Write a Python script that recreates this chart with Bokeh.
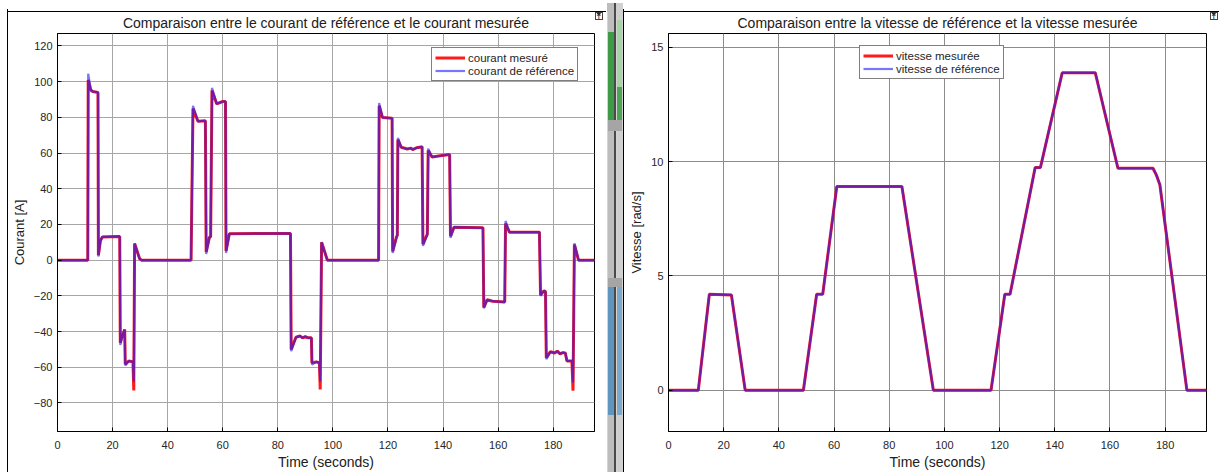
from bokeh.plotting import figure
from bokeh.models import Range1d, FixedTicker, Legend, LegendItem, Div
from bokeh.layouts import row, column
from bokeh.embed import file_html
from bokeh.resources import INLINE

# ---------------- data ----------------
x_ticks = [0, 20, 40, 60, 80, 100, 120, 140, 160, 180]
cur_ticks = [-80, -60, -40, -20, 0, 20, 40, 60, 80, 100, 120]
vit_ticks = [0, 5, 10, 15]

time_cur = [0, 11.0, 11.15, 12.1, 12.8, 14.7, 14.85, 15.6, 16.3, 22.6,
            22.8, 23.6, 24.4, 24.6, 25.9, 27.4, 27.7, 28.0, 29.8, 30.5,
            48.5, 49.2, 51.0, 53.7, 53.99, 55.2, 55.6, 56.1, 57.8, 60.0,
            61.0, 61.2, 62.4, 84.6, 84.85, 86.6, 88.0, 89.0, 90.0, 91.0,
            92.2, 92.4, 94.0, 95.1, 95.4, 95.9, 98.0, 116.6, 116.8, 118.0,
            121.5, 121.7, 123.2, 123.4, 123.6, 124.8, 127.0, 128.3, 129.0, 130.5,
            132.4, 132.7, 134.3, 134.6, 136.0, 139.0, 142.4, 142.7, 144.0, 154.5,
            154.8, 156.0, 158.0, 162.4, 162.7, 164.1, 175.0, 175.4, 176.6, 177.2,
            177.5, 179.0, 180.5, 181.5, 182.5, 183.5, 184.4, 185.0, 186.8, 187.2,
            187.7, 189.2, 195.0]
cur_mes = [0, 0, 101, 95.3, 94.5, 94, 2.8, 11, 13.0, 13.3,
           -46.3, -42, -38.9, -58.3, -56.5, -57, -73, 9.3, 0.9, 0,
           0, 85, 77.8, 78.1, 4.6, 13, 13, 95, 87.6, 88.9,
           88.9, 5.1, 14.8, 15, -50, -43.2, -42.5, -43.5, -42.8, -43.5,
           -43.5, -57.4, -57, -57.5, -72.5, 10, 0, 0, 86.5, 80,
           79.5, 5, 13.5, 13.5, 67.5, 63.3, 62.3, 62.8, 62, 63,
           63.5, 9, 14.6, 61.5, 57.8, 58.5, 59.2, 13.5, 18.5, 18.1,
           -26.5, -22.2, -23, -23.5, 20.5, 15.7, 15.7, -19.4, -17.2, -17.5,
           -54.6, -51.3, -52, -51, -52.5, -51.8, -52, -56.5, -56.5, -73.1,
           8.7, 0, 0]
cur_ref = [0, 0, 104.5, 95.3, 94.5, 94, 2.0, 11, 13.0, 13.3,
           -47.5, -42, -38.9, -59, -56.5, -57, -68, 9.3, 0.9, 0,
           0, 86.5, 77.8, 78.1, 3.5, 13, 13, 96.5, 87.6, 88.9,
           88.9, 4.0, 14.8, 15, -51, -43.2, -42.5, -43.5, -42.8, -43.5,
           -43.5, -58.5, -57, -57.5, -68, 10, 0, 0, 88, 80,
           79.5, 4, 13.5, 13.5, 68.5, 63.3, 62.3, 62.8, 62, 63,
           63.5, 8, 14.6, 62.5, 57.8, 58.5, 59.2, 12.5, 18.5, 18.1,
           -27, -22.2, -23, -23.5, 22, 15.7, 15.7, -20, -17.2, -17.5,
           -55.5, -51.3, -52, -51, -52.5, -51.8, -52, -56.5, -56.5, -68.5,
           9.5, 0, 0]

time_vit = [0, 10.8, 14.8, 22.8, 27.8, 48.9, 53.7, 55.9, 61.0, 84.6,
            96.0, 116.9, 121.9, 123.8, 132.9, 134.8, 142.7, 154.7, 162.9, 175.6,
            176.8, 178.1, 187.9, 195.0]
vit_mes = [0, 0, 4.2, 4.17, 0, 0, 4.2, 4.2, 8.91, 8.91,
           0, 0, 4.2, 4.2, 9.74, 9.74, 13.88, 13.88, 9.71, 9.71,
           9.42, 8.99, 0, 0]
vit_ref = list(vit_mes)

# window decorations: (left, top, width, height, colour) in page pixels
top_boxes = [(7, 8, 599, 1, "#000"), (607, 0, 7, 9, "#bdbdbd"), (614, 0, 2, 9, "#4a4a4a"),
             (616, 0, 7, 9, "#d0d0d0"), (623, 8, 596, 1, "#000")]
left_boxes = [(7, 0, 1, 463, "#000")]
# separator boxes, x relative to x=606, y relative to y=9
sep_boxes = [(1, 0, 16, 463, "#d4d4d4"), (2, 0, 6, 463, "#bdbdbd"), (8, 0, 2, 463, "#4a4a4a"),
             (11, 0, 5, 463, "#cfcfcf"), (2, 23, 6, 88, "#3f9a48"), (11, 11, 5, 67, "#a3d6a3"),
             (11, 78, 5, 33, "#4ca651"), (2, 111, 14, 11, "#a5a5a5"), (2, 269, 14, 9, "#a5a5a5"),
             (2, 278, 6, 128, "#5f95bf"), (11, 278, 5, 128, "#7aa9cd"), (17, 0, 1, 463, "#000")]
icons = [(595, 9), (1210, 9)]

FONT = "Liberation Sans"
H = 463


def boxes_html(boxes, w, h, extra=""):
    parts = [f'<div style="position:relative;width:{w}px;height:{h}px;overflow:visible;">']
    for (l, t, bw, bh, c) in boxes:
        parts.append(f'<div style="position:absolute;left:{l}px;top:{t}px;width:{bw}px;'
                     f'height:{bh}px;background:{c};"></div>')
    parts.append(extra)
    parts.append('</div>')
    return "".join(parts)


icon_html = "".join(
    f'<div style="position:absolute;left:{x}px;top:{y}px;width:8px;height:8px;'
    f'border:1px solid #444;background:#fff;color:#222;font:bold 8px/8px \'DejaVu Sans\';'
    f'text-align:center;z-index:50;">&#x2912;</div>' for (x, y) in icons)

top_div = Div(text=boxes_html(top_boxes, 1219, 9, icon_html), width=1219, height=9,
              margin=(0, 0, 0, 0),
              styles={"overflow": "visible", "z-index": "50", "position": "relative"})
left_div = Div(text=boxes_html(left_boxes, 8, H), width=8, height=H, margin=(0, 0, 0, 0))
sep_div = Div(text=boxes_html(sep_boxes, 18, H), width=18, height=H, margin=(0, 0, 0, 0))


def make_fig(width, left, right, yr, yticks, title, ylabel):
    p = figure(width=width, height=H, x_range=Range1d(0, 195), y_range=Range1d(*yr),
               output_backend="svg", toolbar_location=None,
               min_border_left=left, min_border_right=right,
               min_border_top=24, min_border_bottom=40)
    p.background_fill_color = "white"
    p.border_fill_color = "white"
    p.outline_line_color = "black"
    p.outline_line_width = 1
    p.title.text = title
    p.title.align = "center"
    p.title.text_font = FONT
    p.title.text_font_size = "14px"
    p.title.text_font_style = "normal"
    p.title.text_color = "#202020"
    p.title.standoff = 5
    p.xaxis.ticker = FixedTicker(ticks=x_ticks)
    p.yaxis.ticker = FixedTicker(ticks=yticks)
    p.xgrid.ticker = FixedTicker(ticks=x_ticks)
    p.ygrid.ticker = FixedTicker(ticks=yticks)
    for ax in (p.xaxis, p.yaxis):
        ax.major_label_text_font = FONT
        ax.major_label_text_font_size = "11px"
        ax.major_label_text_color = "#262626"
        ax.axis_label_text_font = FONT
        ax.axis_label_text_font_style = "normal"
        ax.axis_label_text_color = "#202020"
        ax.axis_line_color = "black"
        ax.major_tick_in = 4
        ax.major_tick_out = 0
        ax.major_tick_line_color = "black"
        ax.minor_tick_line_color = None
    p.xaxis.axis_label_text_font_size = "14px"
    p.yaxis.axis_label_text_font_size = "13px"
    p.xaxis.major_label_standoff = 9
    p.xaxis.axis_label_standoff = 2
    p.yaxis.major_label_standoff = 5
    p.yaxis.axis_label_standoff = 4
    p.xaxis.axis_label = "Time (seconds)"
    p.yaxis.axis_label = ylabel
    p.grid.grid_line_color = "#a6a6a6"
    p.grid.grid_line_width = 1
    return p


# ---------------- left: courant ----------------
p1 = make_fig(598, 48, 12, (-96, 127), cur_ticks,
              "Comparaison entre le courant de référence et le courant mesurée", "Courant [A]")
r1 = p1.line(time_cur, cur_mes, line_color="#ff1a1a", line_width=3)
r2 = p1.line(time_cur, cur_ref, line_color="#1a1aff", line_width=2.2, line_alpha=0.6)
leg1 = Legend(items=[LegendItem(label="courant mesuré", renderers=[r1]),
                     LegendItem(label="courant de référence", renderers=[r2])],
              location=(374, 350))
p1.add_layout(leg1, "center")

# ---------------- right: vitesse ----------------
p2 = make_fig(595, 44, 13, (-1.8, 15.6), vit_ticks,
              "Comparaison entre la vitesse de référence et la vitesse mesurée", "Vitesse [rad/s]")
p2.grid.grid_line_color = "#8c8c8c"
r3 = p2.line(time_vit, vit_mes, line_color="#ff1a1a", line_width=3)
r4 = p2.line(time_vit, vit_ref, line_color="#1a1aff", line_width=2.2, line_alpha=0.6)
leg2 = Legend(items=[LegendItem(label="vitesse mesurée", renderers=[r3]),
                     LegendItem(label="vitesse de référence", renderers=[r4])],
              location=(191, 352))
p2.add_layout(leg2, "center")

for lg in (leg1, leg2):
    lg.label_text_font = FONT
    lg.label_text_font_size = "11.5px"
    lg.label_text_color = "#262626"
    lg.glyph_width = 30
    lg.glyph_height = 13
    lg.label_height = 13
    lg.label_standoff = 3
    lg.padding = 3
    lg.spacing = 0
    lg.margin = 0
    lg.border_line_color = "black"
    lg.border_line_width = 1
    lg.background_fill_color = "white"
    lg.background_fill_alpha = 1

layout = column(top_div, row(left_div, p1, sep_div, p2, spacing=0), spacing=0)
open("out.html", "w").write(file_html(layout, INLINE))
